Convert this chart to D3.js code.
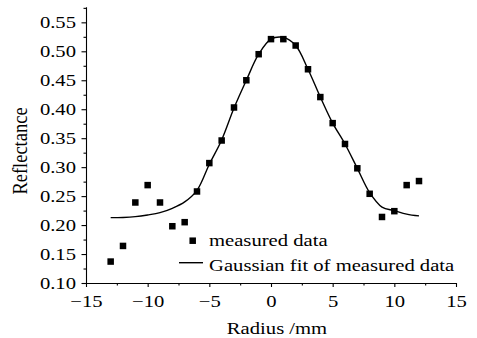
<!DOCTYPE html>
<html>
<head>
<meta charset="utf-8">
<script src="https://cdn.jsdelivr.net/npm/d3@7/dist/d3.min.js"></script>
<style>
  body { margin: 0; background: #fff; }
  text { font-family: "Liberation Serif", "Times New Roman", serif; fill: #000; }
</style>
</head>
<body>
<svg id="chart" width="477" height="338"></svg>
<script>
// measured points
const radius = [-13, -12, -11, -10, -9, -8, -7, -6, -5, -4, -3, -2, -1, 0, 1, 2, 3, 4, 5, 6, 7, 8, 9, 10, 11, 12];
const reflectance = [0.137, 0.164, 0.239, 0.269, 0.239, 0.198, 0.205, 0.258, 0.307, 0.346, 0.403, 0.450, 0.495, 0.521, 0.521, 0.510, 0.469, 0.421, 0.376, 0.340, 0.298, 0.254, 0.214, 0.224, 0.269, 0.276];

// gaussian fit curve
const fitRadius = [-13, -12, -11, -10, -9, -8, -7, -6, -5, -4, -3, -2, -1, 0, 1, 2, 3, 4, 5, 6, 7, 8, 9, 10, 11, 12];
const fitReflectance = [0.2128, 0.2132, 0.2146, 0.2175, 0.2215, 0.229, 0.240, 0.260, 0.305, 0.347, 0.402, 0.450, 0.495, 0.521, 0.524, 0.510, 0.469, 0.421, 0.376, 0.340, 0.298, 0.256, 0.231, 0.225, 0.219, 0.2158];

const xTicks = [-15, -10, -5, 0, 5, 10, 15];
const xMinor = [-12.5, -7.5, -2.5, 2.5, 7.5, 12.5];
const yTicks = [0.10, 0.15, 0.20, 0.25, 0.30, 0.35, 0.40, 0.45, 0.50, 0.55];
const yMinor = [0.125, 0.175, 0.225, 0.275, 0.325, 0.375, 0.425, 0.475, 0.525, 0.575];
const legendLabels = ['measured data', 'Gaussian fit of measured data'];

const stretch = 'scale(1.18,1)';
const fontSize = '17.5px';

const svg = d3.select('#chart');

const x = d3.scaleLinear().domain([-15, 15]).range([86, 456]);
const y = d3.scaleLinear().domain([0.1, 0.577]).range([283, 6.7]);

// bottom axis
const gx = svg.append('g')
  .attr('transform', 'translate(0,283)')
  .call(d3.axisBottom(x).tickValues(xTicks).tickSize(4).tickSizeOuter(0).tickPadding(8).tickFormat(d3.format('d')));
gx.selectAll('text').style('font-size', fontSize).attr('transform', stretch);

svg.append('g')
  .attr('transform', 'translate(0,283)')
  .call(d3.axisBottom(x).tickValues(xMinor).tickSize(2.5).tickFormat(''))
  .select('.domain').remove();

// left axis
const gy = svg.append('g')
  .attr('transform', 'translate(86,0)')
  .call(d3.axisLeft(y).tickValues(yTicks).tickSize(4.5).tickSizeOuter(0).tickFormat(d3.format('.2f')));
gy.selectAll('text').style('font-size', fontSize).attr('x', -8.5).attr('transform', stretch);

svg.append('g')
  .attr('transform', 'translate(86,0)')
  .call(d3.axisLeft(y).tickValues(yMinor).tickSize(2.5).tickFormat(''))
  .select('.domain').remove();

svg.selectAll('.domain, .tick line').attr('stroke', '#000').attr('stroke-width', 1.1);

// axis titles
svg.append('text')
  .attr('transform', 'translate(277,334) ' + stretch)
  .attr('text-anchor', 'middle')
  .style('font-size', fontSize)
  .text('Radius /mm');

svg.append('text')
  .attr('transform', 'translate(26.5,151) ' + stretch + ' rotate(-90)')
  .attr('text-anchor', 'middle')
  .style('font-size', '18.5px')
  .text('Reflectance');

// fit curve
const line = d3.line()
  .x((d, i) => x(fitRadius[i]))
  .y(d => y(d))
  .curve(d3.curveCatmullRom.alpha(0.5));

svg.append('path')
  .datum(fitReflectance)
  .attr('d', line)
  .attr('fill', 'none')
  .attr('stroke', '#000')
  .attr('stroke-width', 1.4);

// measured squares
const side = 6.5;
svg.selectAll('rect.pt')
  .data(reflectance)
  .enter()
  .append('rect')
  .attr('class', 'pt')
  .attr('x', (d, i) => x(radius[i]) - side / 2)
  .attr('y', d => y(d) - side / 2)
  .attr('width', side)
  .attr('height', side)
  .attr('fill', '#000');

// legend
svg.append('rect')
  .attr('x', 192.7 - side / 2)
  .attr('y', 240.7 - side / 2)
  .attr('width', side)
  .attr('height', side)
  .attr('fill', '#000');
svg.append('line')
  .attr('x1', 179).attr('x2', 203)
  .attr('y1', 262.7).attr('y2', 262.7)
  .attr('stroke', '#000')
  .attr('stroke-width', 1.4);

svg.selectAll('text.legend')
  .data(legendLabels)
  .enter()
  .append('text')
  .attr('class', 'legend')
  .attr('transform', (d, i) => 'translate(209,' + (246 + i * 24.5) + ') ' + stretch)
  .style('font-size', fontSize)
  .text(d => d);
</script>
</body>
</html>
